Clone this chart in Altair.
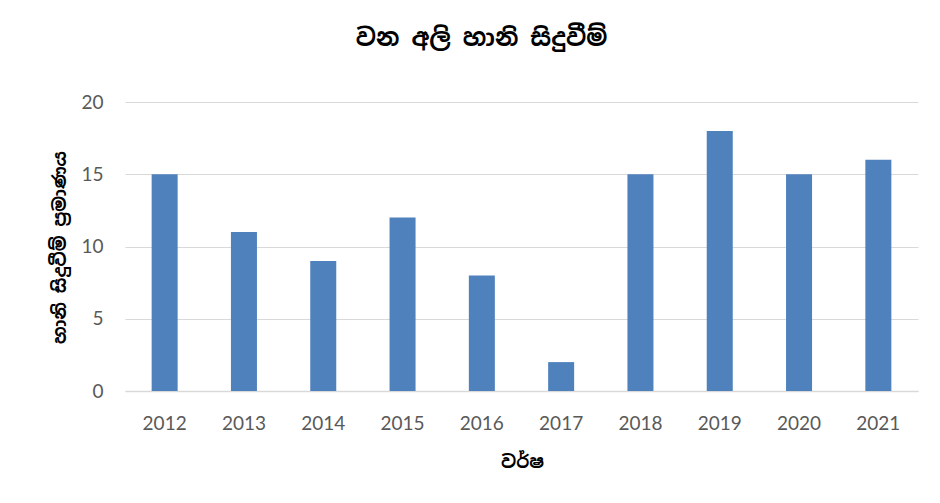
import altair as alt
import pandas as pd

years = ["2012", "2013", "2014", "2015", "2016", "2017", "2018", "2019", "2020", "2021"]
incidents = [15, 11, 9, 12, 8, 2, 15, 18, 15, 16]
y_ticks = [0, 5, 10, 15, 20]

title_text = "වන අලි හානි සිදුවීම්"
x_title = "වර්ෂ"
y_title = "හානි සිදුවීම් ප්‍රමාණය"

df = pd.DataFrame({"year": years, "value": incidents})

SIN = "Noto Sans Sinhala, Iskoola Pota, Noto Sans, DejaVu Sans, sans-serif"
LAB = "Lato, Open Sans, sans-serif"

chart = alt.Chart(df).mark_bar(color="#4F81BD").encode(
    x=alt.X(
        "year:N",
        sort=years,
        scale=alt.Scale(paddingInner=0.672, paddingOuter=0.336),
        axis=alt.Axis(
            title=x_title,
            labelAngle=0,
            labelFont=LAB,
            labelFontSize=19,
            labelColor="#595959",
            labelPadding=23,
            ticks=False,
            domainColor="#d9d9d9",
            domainWidth=1.5,
            titleFont=SIN,
            titleFontSize=18,
            titleFontWeight="bold",
            titleColor="#000000",
            titleX=397,
            titleY=71,
            titleAlign="center",
            titleBaseline="middle",
        ),
    ),
    y=alt.Y(
        "value:Q",
        scale=alt.Scale(domain=[0, 20]),
        axis=alt.Axis(
            title=y_title,
            values=y_ticks,
            labelFont=LAB,
            labelFontSize=19,
            labelColor="#595959",
            labelPadding=22,
            ticks=False,
            domain=False,
            gridColor="#d9d9d9",
            gridWidth=1,
            titleFont=SIN,
            titleFontSize=18,
            titleFontWeight="bold",
            titleColor="#000000",
            titleAngle=270,
            titleX=-65,
            titleY=145,
            titleAlign="center",
            titleBaseline="middle",
        ),
    ),
).properties(
    width=793,
    height=289,
    title=alt.TitleParams(
        text=title_text,
        font=SIN,
        fontSize=24,
        fontWeight="bold",
        color="#000000",
        anchor="middle",
        frame="group",
        dx=-40,
        offset=30,
        baseline="middle",
    ),
    autosize=alt.AutoSizeParams(type="none"),
    padding={"left": 117, "top": 94, "right": 14, "bottom": 104},
).configure(background="#ffffff").configure_view(stroke=None)

chart.save("out.html", embed_options={"renderer": "svg", "actions": False})
